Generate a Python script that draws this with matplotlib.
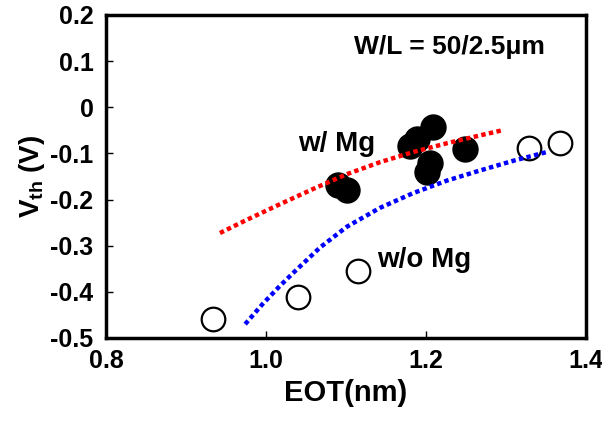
import matplotlib
matplotlib.use("Agg")
import matplotlib.pyplot as plt

# Data
with_mg_x = [1.090, 1.101, 1.180, 1.189, 1.209, 1.249, 1.205, 1.201]
with_mg_y = [-0.168, -0.179, -0.083, -0.069, -0.043, -0.090, -0.120, -0.140]

without_mg_x = [0.934, 1.040, 1.115, 1.329, 1.367]
without_mg_y = [-0.459, -0.411, -0.355, -0.088, -0.077]

fit_mg_x = [0.9425, 0.976, 1.0175, 1.059, 1.101, 1.1425, 1.184, 1.226, 1.2675, 1.295]
fit_mg_y = [-0.2725, -0.244, -0.210, -0.177, -0.145, -0.119, -0.097, -0.078, -0.061, -0.050]

fit_nomg_x = [0.974, 0.996, 1.0175, 1.034, 1.0675, 1.101, 1.1425, 1.184, 1.226, 1.2675, 1.309, 1.351]
fit_nomg_y = [-0.470, -0.426, -0.387, -0.359, -0.304, -0.259, -0.218, -0.186, -0.159, -0.137, -0.116, -0.097]

x_ticks = [0.8, 1.0, 1.2, 1.4]
x_tick_labels = ["0.8", "1.0", "1.2", "1.4"]
y_ticks = [0.2, 0.1, 0.0, -0.1, -0.2, -0.3, -0.4, -0.5]
y_tick_labels = ["0.2", "0.1", "0", "-0.1", "-0.2", "-0.3", "-0.4", "-0.5"]

plt.rcParams['font.family'] = ['Liberation Sans', 'DejaVu Sans']
plt.rcParams['font.weight'] = 'bold'
plt.rcParams['mathtext.fontset'] = 'custom'
plt.rcParams['mathtext.bf'] = 'Liberation Sans:bold'
plt.rcParams['mathtext.rm'] = 'Liberation Sans:bold'

fig = plt.figure(figsize=(6.02, 4.26), dpi=100)
ax = fig.add_axes([0.176, 0.2066, 0.7974, 0.7582])

ax.plot(fit_mg_x, fit_mg_y, color='#ff0000', lw=3.2, linestyle=(0, (1, 0.75)),
        dash_capstyle='butt', zorder=3)
ax.plot(fit_nomg_x, fit_nomg_y, color='#0000ff', lw=3.2, linestyle=(0, (1, 0.75)),
        dash_capstyle='butt', zorder=3)

ax.plot(with_mg_x, with_mg_y, 'o', color='black', markersize=18, zorder=2)
ax.plot(without_mg_x, without_mg_y, 'o', markerfacecolor='white',
        markeredgecolor='black', markeredgewidth=1.6, markersize=17, zorder=2)

ax.set_xlim(0.8, 1.4)
ax.set_ylim(-0.5, 0.2)
ax.set_xticks(x_ticks)
ax.set_xticklabels(x_tick_labels)
ax.set_yticks(y_ticks)
ax.set_yticklabels(y_tick_labels)
ax.tick_params(direction='in', length=5, width=1, labelsize=18, pad=9,
               top=False, right=False)
ax.tick_params(axis='x', pad=8)
for lab in ax.get_xticklabels() + ax.get_yticklabels():
    lab.set_fontweight('bold')
for s in ax.spines.values():
    s.set_linewidth(2.5)

ax.set_xlabel('EOT(nm)', fontsize=21, fontweight='bold', labelpad=4)
ax.set_ylabel(r'V$_{\mathbf{th}}$ (V)', fontsize=20, fontweight='bold', labelpad=2)

ax.text(1.229, 0.131, 'W/L = 50/2.5μm', fontsize=19, fontweight='bold',
        ha='center', va='center')
ax.text(1.04, -0.080, 'w/ Mg', fontsize=20, fontweight='bold', ha='left', va='center')
ax.text(1.139, -0.331, 'w/o Mg', fontsize=20, fontweight='bold', ha='left', va='center')

fig.savefig('out.png', dpi=100)
